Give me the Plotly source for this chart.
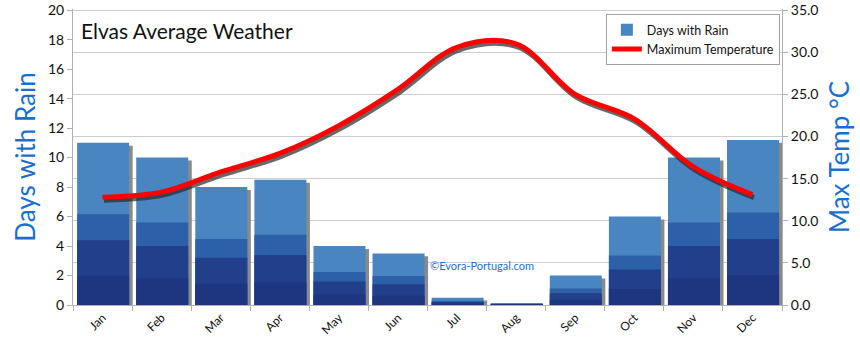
import plotly.graph_objects as go

months = ["Jan", "Feb", "Mar", "Apr", "May", "Jun", "Jul", "Aug", "Sep", "Oct", "Nov", "Dec"]
rain_days = [11.0, 10.0, 8.0, 8.5, 4.0, 3.5, 0.5, 0.1, 2.0, 6.0, 10.0, 11.2]
max_temp = [12.8, 13.4, 15.8, 18.0, 21.3, 25.6, 30.6, 31.0, 25.0, 22.1, 16.4, 13.1]

FONT = "Lato"
BLUE_T = "#1a6fce"
fig = go.Figure()

# bar shadow
fig.add_trace(go.Bar(x=months, y=rain_days, base=-0.2, width=0.88, offset=-0.37,
                     marker=dict(color="#8a8a8a", line=dict(width=0)),
                     showlegend=False, hoverinfo="skip", yaxis="y"))
# bar layers (light top -> dark bottom)
fig.add_trace(go.Bar(x=months, y=rain_days, width=0.88, offset=-0.43, name="Days with Rain",
                     marker=dict(color="#4985c0", line=dict(width=0)), yaxis="y"))
fig.add_trace(go.Bar(x=months, y=[v * 0.56 for v in rain_days], width=0.88, offset=-0.43,
                     marker=dict(color="#2c60a8", line=dict(width=0)),
                     showlegend=False, hoverinfo="skip", yaxis="y"))
fig.add_trace(go.Bar(x=months, y=[v * 0.4 for v in rain_days], width=0.88, offset=-0.43,
                     marker=dict(color="#213f8a", line=dict(width=0)),
                     showlegend=False, hoverinfo="skip", yaxis="y"))
fig.add_trace(go.Bar(x=months, y=[v * 0.18 for v in rain_days], width=0.88, offset=-0.43,
                     marker=dict(color="#1d367f", line=dict(width=0)),
                     showlegend=False, hoverinfo="skip", yaxis="y"))

# temperature line shadow (hidden, slightly shifted axes)
fig.add_trace(go.Scatter(x=months, y=max_temp, mode="lines", xaxis="x2", yaxis="y2",
                         line=dict(color="rgba(40,40,40,0.7)", width=5, shape="spline", smoothing=1.0),
                         showlegend=False, hoverinfo="skip"))
# temperature line
fig.add_trace(go.Scatter(x=months, y=max_temp, mode="lines", name="Maximum Temperature",
                         xaxis="x3", yaxis="y3",
                         line=dict(color="#ff0000", width=5, shape="spline", smoothing=1.0)))

fig.update_layout(
    width=860, height=352,
    margin=dict(l=73, r=78, t=9, b=47, autoexpand=False),
    paper_bgcolor="white", plot_bgcolor="white",
    barmode="overlay",
    font=dict(family=FONT, color="#111111"),
    xaxis=dict(type="category", range=[-0.5, 11.5], tickson="boundaries", automargin=False,
               ticks="outside", ticklen=5, tickcolor="#b0b0b0",
               showline=True, linecolor="#b0b0b0", showgrid=False,
               tickangle=-45, tickfont=dict(size=12, family=FONT)),
    xaxis2=dict(type="category", overlaying="x", range=[-0.5 - 0.025, 11.5 - 0.025],
                visible=False, showgrid=False),
    xaxis3=dict(type="category", overlaying="x", range=[-0.5, 11.5],
                visible=False, showgrid=False),
    yaxis=dict(range=[0, 20.08], tickmode="array", tickvals=list(range(0, 21, 2)), automargin=False,
               ticks="outside", ticklen=5, tickcolor="#b0b0b0",
               showline=True, linecolor="#b0b0b0", showgrid=False, zeroline=False,
               tickfont=dict(size=14, family=FONT),
               title=dict(text="Days with Rain", font=dict(size=26, color=BLUE_T, family=FONT), standoff=4)),
    yaxis2=dict(range=[0.35, 35.49], overlaying="y", visible=False, showgrid=False),
    yaxis3=dict(range=[0, 35.14], tickmode="array", tickvals=list(range(0, 36, 5)), automargin=False,
                tickformat=".1f", overlaying="y", side="right",
                anchor="x", ticks="outside", ticklen=5, tickcolor="#b0b0b0",
                showline=True, linecolor="#b0b0b0", showgrid=True, gridcolor="#cccccc",
                zeroline=False, tickfont=dict(size=14, family=FONT),
                title=dict(text="Max Temp °C", font=dict(size=26, color=BLUE_T, family=FONT), standoff=13)),
    legend=dict(x=0.997, y=0.983, xanchor="right", yanchor="top",
                bgcolor="white", bordercolor="#a0a0a0", borderwidth=1,
                font=dict(size=12.5, family=FONT), tracegroupgap=2),
    annotations=[
        dict(text="Elvas Average Weather", xref="paper", yref="paper", x=0.0085, y=0.929,
             xanchor="left", yanchor="middle", showarrow=False,
             font=dict(size=21, family=FONT, color="#111111")),
        dict(text="©Evora-Portugal.com", xref="paper", yref="paper", x=0.5, y=0.135,
             xanchor="left", yanchor="middle", showarrow=False,
             font=dict(size=11, family=FONT, color=BLUE_T)),
    ],
)

fig.write_html("out.html")
